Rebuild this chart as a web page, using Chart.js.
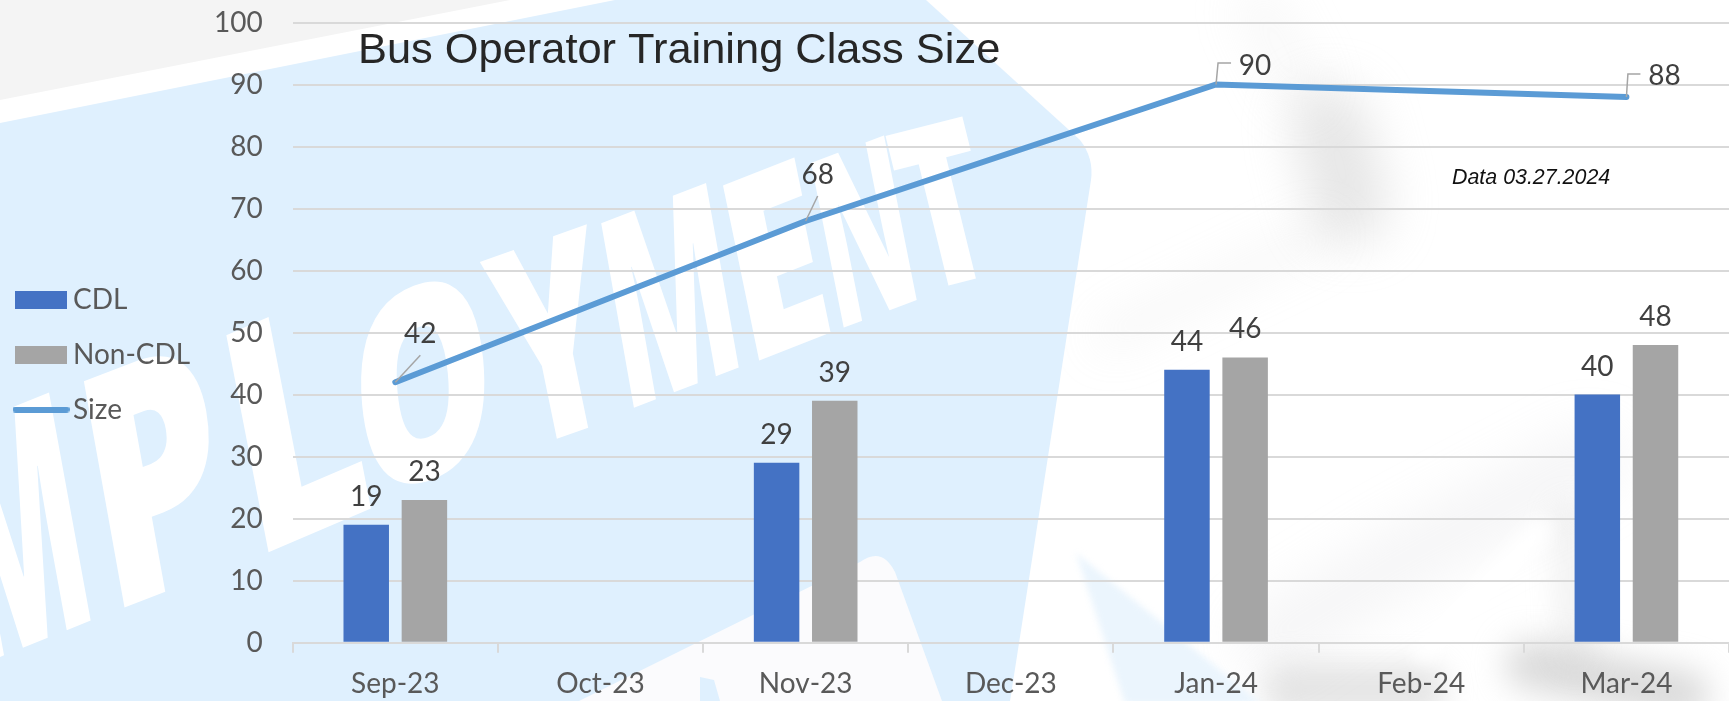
<!DOCTYPE html>
<html>
<head>
<meta charset="utf-8">
<title>Bus Operator Training Class Size</title>
<script src="https://cdn.jsdelivr.net/npm/chart.js@4"></script>
<style>
  html, body { margin: 0; padding: 0; background: #fff; overflow: hidden; }
  canvas { display: block; }
</style>
</head>
<body>
<canvas id="chart" width="1729" height="701"></canvas>
<script>
'use strict';

const months = ['Sep-23', 'Oct-23', 'Nov-23', 'Dec-23', 'Jan-24', 'Feb-24', 'Mar-24'];
const cdl = [19, null, 29, null, 44, null, 40];
const nonCdl = [23, null, 39, null, 46, null, 48];
const classSize = [42, null, 68, null, 90, null, 88];

const titleText = 'Bus Operator Training Class Size';
const noteText = 'Data 03.27.2024';

const BLUE = '#4472C4';
const GRAY = '#A5A5A5';
const LINE = '#5B9BD5';
const GRID = '#D9D9D9';
const AXIS_TEXT = '#595959';
const LABEL_TEXT = '#404040';

// leader lines and label spots for the line series, relative to each point
const sizeCallouts = {
  0: { label: [25, -48], leader: [[25, -27]] },
  2: { label: [12, -46], leader: [[12, -25]] },
  4: { label: [39, -18.5], leader: [[2, -21.5], [15, -21.5]] },
  6: { label: [38, -20.5], leader: [[1.5, -23], [14, -23]] }
};

// backdrop watermark: ink box corners of each letter (bottom-left, bottom-right, top-left)
const watermark = [
  ['M', [-20, 665], [92, 620], [-62, 435]],
  ['P', [123, 608], [235, 565], [82, 380]],
  ['L', [267, 553], [372, 508], [225, 337]],
  ['O', [371, 500], [493, 454], [353, 310]],
  ['Y', [519, 452], [627, 414], [480, 263]],
  ['M', [633, 408], [740, 367], [600, 222]],
  ['E', [758, 361], [832, 332], [722, 187]],
  ['N', [843, 328], [917, 300], [810, 162]],
  ['T', [923, 292], [1001, 272], [885, 137]]
];

function fillPoly(ctx, pts, color) {
  ctx.fillStyle = color;
  ctx.beginPath();
  pts.forEach((p, i) => (i ? ctx.lineTo(p[0], p[1]) : ctx.moveTo(p[0], p[1])));
  ctx.closePath();
  ctx.fill();
}

function smear(ctx, pts, width, color, blur) {
  ctx.save();
  ctx.filter = `blur(${blur}px)`;
  ctx.strokeStyle = color;
  ctx.lineWidth = width;
  ctx.lineCap = 'round';
  ctx.lineJoin = 'round';
  ctx.beginPath();
  pts.forEach((p, i) => (i ? ctx.lineTo(p[0], p[1]) : ctx.moveTo(p[0], p[1])));
  ctx.stroke();
  ctx.restore();
}

const backdrop = {
  id: 'backdrop',
  beforeDraw(chart) {
    const ctx = chart.ctx;
    ctx.save();
    ctx.fillStyle = '#fff';
    ctx.fillRect(0, 0, 1729, 701);

    fillPoly(ctx, [[0, 0], [510, 0], [0, 100]], '#F4F4F4');

    // soft grey smudges on the right
    smear(ctx, [[1260, 10], [1300, 90]], 50, 'rgba(215,215,215,0.16)', 22);
    smear(ctx, [[1330, 125], [1350, 205]], 75, 'rgba(205,205,205,0.5)', 24);
    smear(ctx, [[1320, 235], [1110, 335]], 35, 'rgba(210,210,210,0.16)', 22);
    smear(ctx, [[1270, 640], [1400, 560], [1590, 460]], 70, 'rgba(215,215,220,0.22)', 24);
    smear(ctx, [[1290, 690], [1420, 690]], 55, 'rgba(205,205,205,0.5)', 14);
    smear(ctx, [[1530, 665], [1685, 695]], 50, 'rgba(195,195,195,0.6)', 16);
    smear(ctx, [[1570, 520], [1575, 650]], 35, 'rgba(205,205,205,0.25)', 14);
    smear(ctx, [[1425, 650], [1540, 530]], 24, '#fff', 9);

    // blue sign panel
    ctx.fillStyle = '#DFF0FE';
    ctx.beginPath();
    ctx.moveTo(0, 123);
    ctx.lineTo(615, 0);
    ctx.lineTo(926, 0);
    ctx.lineTo(1080, 140);
    ctx.quadraticCurveTo(1094, 158, 1091, 180);
    ctx.lineTo(1010, 701);
    ctx.lineTo(0, 701);
    ctx.closePath();
    ctx.fill();

    // corner of the next sign, bottom middle
    ctx.fillStyle = '#FBFBFD';
    ctx.beginPath();
    ctx.moveTo(579, 701);
    ctx.lineTo(860, 562);
    ctx.quadraticCurveTo(882, 546, 895, 572);
    ctx.lineTo(942, 701);
    ctx.closePath();
    ctx.fill();
    fillPoly(ctx, [[700, 701], [700, 677], [714, 680], [720, 701]], '#DFF0FE');

    ctx.save();
    ctx.filter = 'blur(3px)';
    fillPoly(ctx, [[1076, 553], [1262, 704], [1125, 704]], '#EBF5FD');
    ctx.restore();

    // watermark word, one letter at a time so it can follow the perspective
    ctx.font = '800 100px "Open Sans"';
    ctx.fillStyle = '#fff';
    ctx.textBaseline = 'alphabetic';
    ctx.textAlign = 'left';
    watermark.forEach(([ch, bl, br, tl]) => {
      const m = ctx.measureText(ch);
      const l = -m.actualBoundingBoxLeft;
      const w = m.actualBoundingBoxRight - l;
      const asc = m.actualBoundingBoxAscent;
      const a = (br[0] - bl[0]) / w;
      const b = (br[1] - bl[1]) / w;
      ctx.save();
      ctx.transform(a, b, -(tl[0] - bl[0]) / asc, -(tl[1] - bl[1]) / asc, bl[0] - a * l, bl[1] - b * l);
      ctx.fillText(ch, 0, 0);
      ctx.restore();
    });
    ctx.restore();
  }
};

const annotations = {
  id: 'annotations',
  afterDatasetsDraw(chart) {
    const ctx = chart.ctx;
    ctx.save();

    // bar value labels
    ctx.font = '28px Lato';
    ctx.fillStyle = LABEL_TEXT;
    ctx.textAlign = 'center';
    ctx.textBaseline = 'middle';
    [0, 1].forEach(i => {
      const values = chart.data.datasets[i].data;
      chart.getDatasetMeta(i).data.forEach((bar, j) => {
        if (values[j] !== null) ctx.fillText(values[j], bar.x, bar.y - 28);
      });
    });

    // line value labels with leader lines
    const points = chart.getDatasetMeta(2).data;
    ctx.strokeStyle = GRAY;
    ctx.lineWidth = 1.5;
    Object.keys(sizeCallouts).forEach(k => {
      const p = points[k];
      const c = sizeCallouts[k];
      ctx.beginPath();
      ctx.moveTo(p.x, p.y);
      c.leader.forEach(o => ctx.lineTo(p.x + o[0], p.y + o[1]));
      ctx.stroke();
      ctx.fillText(classSize[k], p.x + c.label[0], p.y + c.label[1]);
    });

    ctx.textAlign = 'left';
    ctx.textBaseline = 'alphabetic';
    ctx.font = '43.4px "Liberation Sans"';
    ctx.fillStyle = '#262626';
    ctx.fillText(titleText, 358, 63);
    ctx.font = 'italic 21.4px "Liberation Sans"';
    ctx.fillStyle = '#111';
    ctx.fillText(noteText, 1452, 184);
    ctx.restore();
  }
};

function swatch(w, h, draw) {
  const c = document.createElement('canvas');
  c.width = w;
  c.height = h;
  draw(c.getContext('2d'));
  return c;
}

const legendSwatches = [
  swatch(52, 18, g => { g.fillStyle = BLUE; g.fillRect(0, 0, 52, 18); }),
  swatch(52, 18, g => { g.fillStyle = GRAY; g.fillRect(0, 0, 52, 18); }),
  swatch(57, 6, g => {
    g.strokeStyle = LINE;
    g.lineWidth = 6;
    g.lineCap = 'round';
    g.beginPath();
    g.moveTo(3, 3);
    g.lineTo(54, 3);
    g.stroke();
  })
];

new Chart(document.getElementById('chart'), {
  data: {
    labels: months,
    datasets: [
      { type: 'bar', label: 'CDL', data: cdl, backgroundColor: BLUE },
      { type: 'bar', label: 'Non-CDL', data: nonCdl, backgroundColor: GRAY },
      {
        type: 'line',
        label: 'Size',
        data: classSize,
        borderColor: LINE,
        backgroundColor: LINE,
        borderWidth: 6,
        borderCapStyle: 'round',
        pointRadius: 0,
        spanGaps: true,
        tension: 0
      }
    ]
  },
  options: {
    responsive: false,
    animation: false,
    categoryPercentage: 0.567,
    barPercentage: 0.782,
    layout: { padding: { top: 0, right: 0, bottom: -8, left: -4 } },
    plugins: {
      title: { display: false },
      tooltip: { enabled: false },
      legend: {
        position: 'left',
        labels: {
          color: AXIS_TEXT,
          font: { family: 'Lato', size: 28 },
          usePointStyle: true,
          pointStyleWidth: 36,
          boxHeight: 18,
          padding: 27,
          generateLabels(chart) {
            const items = Chart.defaults.plugins.legend.labels.generateLabels(chart);
            items.forEach((item, i) => { item.pointStyle = legendSwatches[i]; });
            return items;
          }
        }
      }
    },
    scales: {
      x: {
        offset: true,
        afterFit(axis) { axis.height = 66.3; },
        grid: { offset: true, drawOnChartArea: false, color: GRID, lineWidth: 2, tickLength: 10 },
        border: { color: GRID, width: 2 },
        ticks: {
          color: AXIS_TEXT,
          font: { family: 'Lato', size: 28 },
          padding: 14,
          autoSkip: false,
          maxRotation: 0
        }
      },
      y: {
        min: 0,
        max: 100,
        afterFit(axis) { axis.width = 92.5; },
        // ticks.padding also pads the plot top, so it sets the 22.5px head room; the invisible tick makes up the label gap
        grid: { color: GRID, lineWidth: 2, tickLength: 24.3, tickColor: 'transparent' },
        border: { display: false },
        ticks: {
          stepSize: 10,
          color: AXIS_TEXT,
          font: { family: 'Lato', size: 28 },
          padding: 5.7
        }
      }
    }
  },
  plugins: [backdrop, annotations]
});
</script>
</body>
</html>
